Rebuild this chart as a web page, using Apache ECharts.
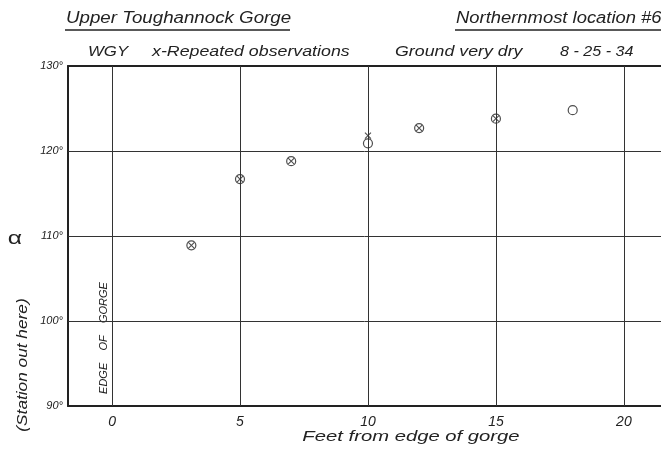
<!DOCTYPE html>
<html><head><meta charset="utf-8">
<script src="https://cdn.jsdelivr.net/npm/echarts@6/dist/echarts.min.js"></script>
<style>html,body{margin:0;padding:0;background:#fff}#c{width:661px;height:449px}</style>
</head><body><div id="c"></div>
<script>
// Data
const xTicks = [0, 5, 10, 15, 20];
const yTicks = [90, 100, 110, 120, 130];
const circleObs = [[3.1,108.9],[5,116.7],[7,118.8],[10,120.9],[12,122.7],[15,123.8],[18,124.8]];
const repeatedObs = [[3.1,108.9],[5,116.7],[7,118.8],[10,121.8],[12,122.7],[15,123.8]];
const gridX = [0, 5, 10, 15, 20];
const gridY = [100, 110, 120];

const F = '"Liberation Sans", "DejaVu Sans", sans-serif';
const ink = '#222';
function txt(text, x, y, size, sx, align, extra){
  return Object.assign({type:'text', x:x, y:y, scaleX:sx, scaleY:1,
    style:{text:text, font:'italic '+size+'px '+F, fill:ink, align:align||'left', verticalAlign:'middle'}}, extra||{});
}
const chart = echarts.init(document.getElementById('c'), null, {renderer:'canvas'});
chart.setOption({
  backgroundColor:'#fff',
  animation:false,
  grid:{left:68, top:66, right:0, bottom:43},
  xAxis:[{
    type:'value', min:-1.72, max:21.45,
    axisLine:{show:true, onZero:false, lineStyle:{color:ink, width:2}},
    axisTick:{show:false},
    splitLine:{show:false},
    axisLabel:{customValues:xTicks, color:ink, fontFamily:F, fontStyle:'italic', fontSize:14, margin:9}
  },{
    type:'value', position:'top', min:-1.72, max:21.45,
    axisLine:{show:true, onZero:false, lineStyle:{color:ink, width:2}},
    axisTick:{show:false}, axisLabel:{show:false}, splitLine:{show:false}
  }],
  yAxis:{
    type:'value', min:90, max:130, interval:10,
    axisLine:{show:true, onZero:false, lineStyle:{color:ink, width:2}},
    axisTick:{show:false},
    splitLine:{show:false},
    axisLabel:{color:ink, fontFamily:F, fontStyle:'italic', fontSize:11, margin:5,
      formatter:v=>yTicks.includes(v)? v+'°':''}
  },
  graphic:[
    txt('Upper Toughannock Gorge', 66, 19, 16, 1.17),
    {type:'line', shape:{x1:65,y1:30,x2:290,y2:30}, style:{stroke:ink, lineWidth:1.5}},
    txt('Northernmost location #6', 456, 19, 16, 1.15),
    {type:'line', shape:{x1:455,y1:30,x2:661,y2:30}, style:{stroke:ink, lineWidth:1.5}},
    txt('WGY', 88, 52, 14, 1.2),
    txt('x-Repeated observations', 152, 52, 14, 1.27),
    txt('Ground very dry', 395, 52, 14, 1.27),
    txt('8 - 25 - 34', 560, 52, 14, 1.15),
    {type:'text', x:15, y:239, scaleX:1.3, style:{text:'α', font:'19px '+F, fill:ink, align:'center', verticalAlign:'middle'}},
    {type:'text', x:23, y:365, rotation:Math.PI/2, scaleX:1.15, style:{text:'(Station out here)', font:'italic 15px '+F, fill:ink, align:'center', verticalAlign:'middle'}},
    {type:'text', x:104, y:338, rotation:Math.PI/2, style:{text:'EDGE    OF    GORGE', font:'italic 11px '+F, fill:ink, align:'center', verticalAlign:'middle'}},
    txt('Feet from edge of gorge', 411, 437, 15, 1.35, 'center')
  ],
  series:[
    {
      type:'scatter', data:circleObs, symbol:'circle', symbolSize:9,
      itemStyle:{color:'rgba(255,255,255,0)', borderColor:ink, borderWidth:1.2},
      markLine:{
        silent:true, symbol:['none','none'], label:{show:false},
        lineStyle:{color:'#333', width:1, type:'solid'},
        data: gridX.map(v=>({xAxis:v})).concat(gridY.map(v=>({yAxis:v})))
      },
      z:3
    },
    {
      type:'scatter', data:repeatedObs, symbol:'path://M0,0L10,10M10,0L0,10', symbolSize:6,
      itemStyle:{color:'none', borderColor:ink, borderWidth:1.1}, z:4
    }
  ]
});
</script></body></html>
